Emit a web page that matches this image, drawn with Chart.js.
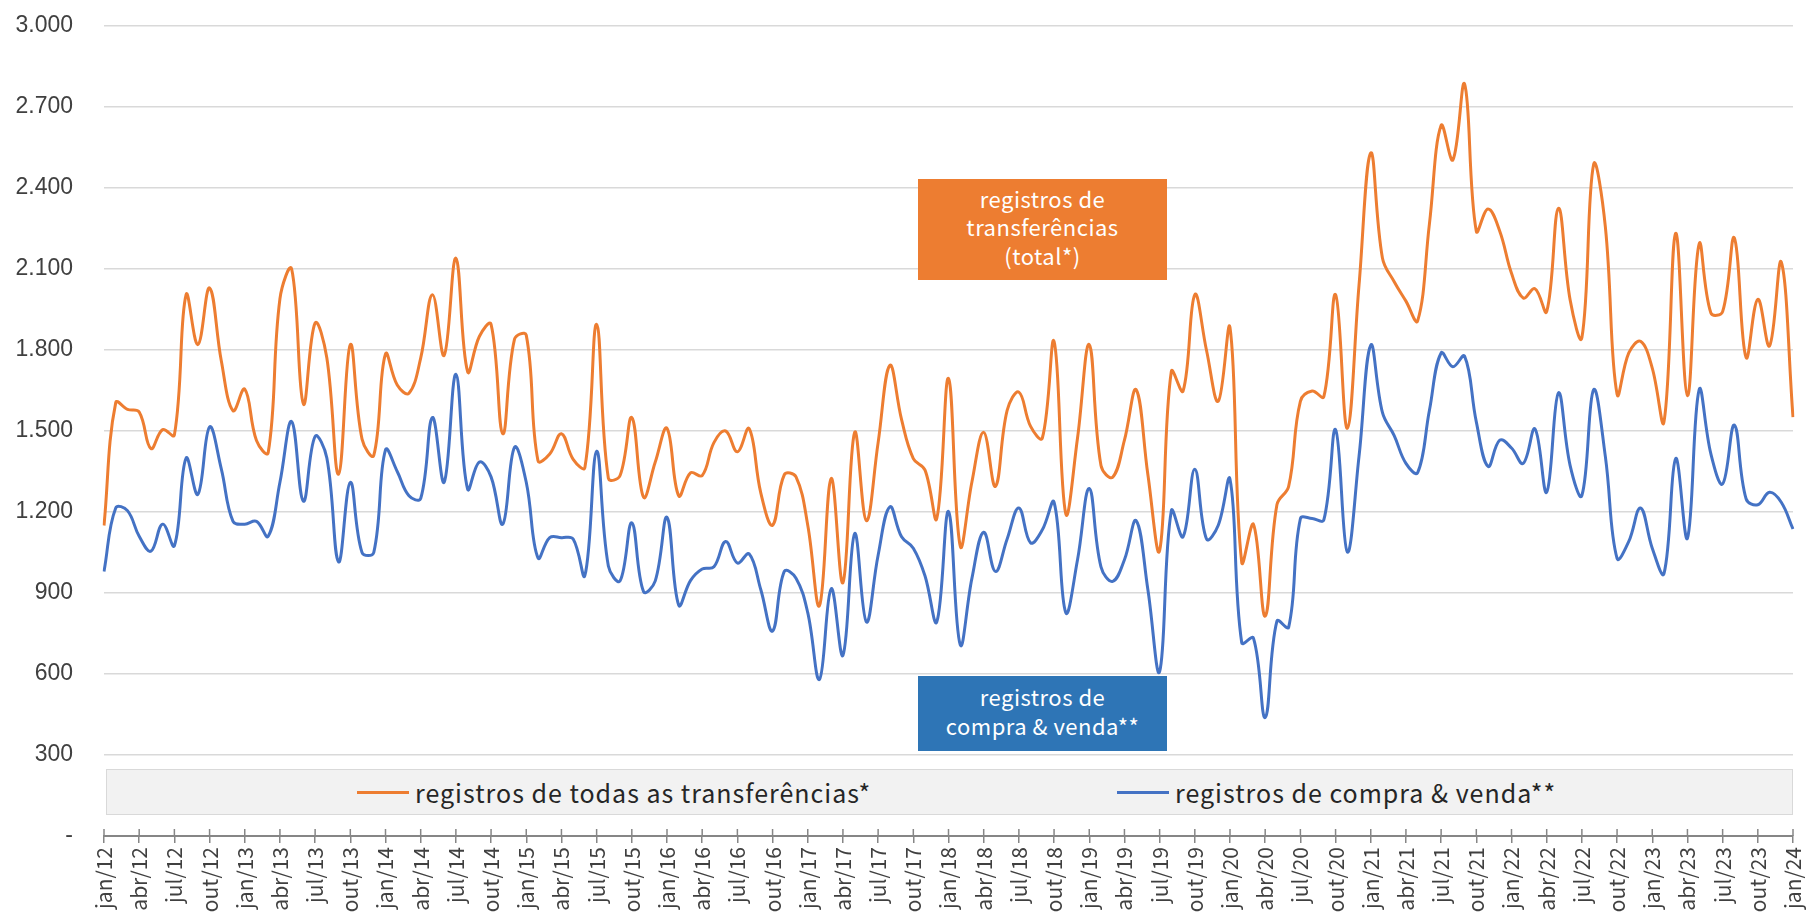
<!DOCTYPE html>
<html lang="pt-BR">
<head>
<meta charset="utf-8">
<title>Registros de transferências e de compra & venda</title>
<script src="https://cdn.jsdelivr.net/npm/chart.js@4.4.1/dist/chart.umd.min.js"></script>
<style>
  html, body { margin: 0; padding: 0; background: #fff; }
  #wrap { position: relative; width: 1806px; height: 915px; overflow: hidden; }
  canvas { display: block; }
  .caixa {
    position: absolute; left: 918px; width: 249px; box-sizing: border-box;
    display: flex; align-items: center; justify-content: center; text-align: center;
    color: #fff; font-family: "Noto Sans CJK JP", "Noto Sans", sans-serif;
    font-size: 22px; line-height: 28.5px; letter-spacing: 0.5px; padding-bottom: 6px;
  }
  #caixa-total { top: 179px; height: 101px; background: #ED7D31; }
  #caixa-cv { top: 676px; height: 75px; background: #2E75B6; }
  #legenda {
    position: absolute; left: 106px; top: 769px; width: 1685px; height: 44px;
    background: #f2f2f2; border: 1px solid #d9d9d9;
    font-family: "Noto Sans CJK JP", "Noto Sans", sans-serif; font-size: 25px;
    letter-spacing: 1px; color: #262626;
  }
  .item { position: absolute; top: 0; height: 44px; display: flex; align-items: center; }
  .item span.amostra { display: inline-block; width: 52px; height: 3px; margin-right: 6px; }
</style>
</head>
<body>
<div id="wrap">
  <canvas id="grafico" width="1806" height="915"></canvas>
  <div class="caixa" id="caixa-total">registros de<br>transferências<br>(total*)</div>
  <div class="caixa" id="caixa-cv">registros de<br>compra &amp; venda**</div>
  <div id="legenda">
    <div class="item" style="left:250px"><span class="amostra" style="background:#ED7D31"></span>registros de todas as transferências*</div>
    <div class="item" style="left:1010px"><span class="amostra" style="background:#4472C4"></span>registros de compra &amp; venda**</div>
  </div>
</div>
<script>
// ==================== DADOS ====================

const MESES = ['jan', 'fev', 'mar', 'abr', 'mai', 'jun', 'jul', 'ago', 'set', 'out', 'nov', 'dez'];
const ANOS = ['12', '13', '14', '15', '16', '17', '18', '19', '20', '21', '22', '23', '24'];

// registros de todas as transferências (total*), jan/12 a jan/24
const transferencias = [
  1150, 1605, 1580, 1570, 1435, 1505, 1485, 2005, 1820, 2030, 1760, 1575, // 2012
  1655, 1465, 1420, 1990, 2100, 1600, 1900, 1770, 1340, 1820, 1470, 1410, // 2013
  1785, 1670, 1640, 1770, 2005, 1780, 2140, 1720, 1850, 1895, 1490, 1840, // 2014
  1855, 1390, 1415, 1490, 1395, 1365, 1895, 1325, 1335, 1550, 1255, 1385, // 2015
  1510, 1260, 1345, 1335, 1457, 1500, 1423, 1509, 1270, 1151, 1338, 1330, // 2016
  1151, 853, 1324, 938, 1495, 1168, 1457, 1743, 1542, 1398, 1355, 1176,   // 2017
  1695, 1074, 1312, 1495, 1295, 1576, 1644, 1517, 1474, 1832, 1193, 1474, // 2018
  1820, 1372, 1329, 1466, 1653, 1338, 1057, 1721, 1648, 2005, 1798, 1610, // 2019
  1883, 1014, 1154, 814, 1227, 1295, 1610, 1648, 1627, 2005, 1510, 2040,  // 2020
  2530, 2140, 2053, 1981, 1908, 2266, 2632, 2504, 2785, 2240, 2322, 2240, // 2021
  2084, 1993, 2027, 1942, 2325, 1985, 1845, 2487, 2257, 1636, 1789, 1832, // 2022
  1733, 1534, 2232, 1631, 2193, 1937, 1942, 2215, 1772, 1988, 1815, 2126, // 2023
  1551                                                                     // 2024
];

// registros de compra & venda**, jan/12 a jan/24
const compraVenda = [
  980, 1215, 1205, 1110, 1055, 1155, 1075, 1400, 1265, 1515, 1360, 1165,  // 2012
  1155, 1165, 1110, 1310, 1535, 1240, 1480, 1400, 1015, 1310, 1050, 1050, // 2013
  1430, 1350, 1260, 1250, 1550, 1310, 1710, 1285, 1385, 1330, 1155, 1440, // 2014
  1310, 1030, 1105, 1105, 1100, 965, 1425, 1000, 945, 1160, 905, 945,     // 2015
  1180, 855, 946, 989, 997, 1091, 1011, 1045, 912, 759, 980, 955,         // 2016
  827, 580, 916, 669, 1120, 793, 1040, 1219, 1108, 1066, 963, 793,        // 2017
  1202, 708, 955, 1125, 980, 1100, 1215, 1086, 1134, 1236, 827, 1023,     // 2018
  1287, 997, 943, 1023, 1168, 912, 609, 1205, 1108, 1358, 1100, 1151,     // 2019
  1321, 716, 733, 439, 796, 773, 1175, 1176, 1171, 1505, 1052, 1406,      // 2020
  1818, 1568, 1483, 1380, 1346, 1576, 1789, 1738, 1777, 1534, 1369, 1466, // 2021
  1437, 1380, 1508, 1273, 1641, 1372, 1261, 1653, 1406, 1028, 1091, 1215, // 2022
  1066, 972, 1398, 1103, 1653, 1415, 1304, 1522, 1249, 1227, 1273, 1236,  // 2023
  1137                                                                     // 2024
];

// categorias mensais: jan/12 ... jan/24
const categorias = [];
ANOS.forEach(ano => {
  MESES.forEach(mes => {
    if (ano === '24' && mes !== 'jan') return;
    categorias.push(mes + '/' + ano);
  });
});

// ==================== FORMATO ====================

function formatarMilhar(valor) {
  if (valor === 0) return '-';
  return String(valor).replace(/\B(?=(\d{3})+(?!\d))/g, '.');
}

// marcas do eixo x cruzando a linha (parte de cima)
const marcasEixo = {
  id: 'marcasEixo',
  afterDraw(chart) {
    const escala = chart.scales.x;
    const c = chart.ctx;
    c.save();
    c.strokeStyle = '#868686';
    c.lineWidth = 1.5;
    escala.ticks.forEach((t, i) => {
      if (t.label === null || t.label === undefined) return;
      const x = escala.getPixelForTick(i);
      c.beginPath();
      c.moveTo(x, escala.top - 7);
      c.lineTo(x, escala.top);
      c.stroke();
    });
    c.restore();
  }
};

// ==================== GRÁFICO ====================

const ctx = document.getElementById('grafico').getContext('2d');

new Chart(ctx, {
  type: 'line',
  data: {
    labels: categorias,
    datasets: [
      {
        label: 'registros de todas as transferências*',
        data: transferencias,
        borderColor: '#ED7D31',
        borderWidth: 3,
        pointRadius: 0,
        tension: 0.4,
        fill: false
      },
      {
        label: 'registros de compra & venda**',
        data: compraVenda,
        borderColor: '#4472C4',
        borderWidth: 3,
        pointRadius: 0,
        tension: 0.4,
        fill: false
      }
    ]
  },
  options: {
    responsive: false,
    animation: false,
    layout: { padding: { top: 26, right: 13, left: 0, bottom: 0 } },
    plugins: {
      legend: { display: false },
      tooltip: { enabled: false }
    },
    scales: {
      x: {
        grid: {
          display: true,
          drawOnChartArea: false,
          drawTicks: true,
          tickLength: 7,
          color: '#868686',
          lineWidth: 1.5
        },
        border: { display: true, color: '#868686', width: 2 },
        ticks: {
          autoSkip: false,
          minRotation: 90,
          maxRotation: 90,
          padding: 4,
          color: '#404040',
          font: { family: '"Noto Sans CJK JP"', size: 21 },
          callback: function(valor, indice) {
            return indice % 3 === 0 ? this.getLabelForValue(valor) : null;
          }
        },
        afterFit: escala => {
          escala.height = 79;
          escala.paddingLeft = 0;
          escala.paddingRight = 0;
        }
      },
      y: {
        min: 0,
        max: 3000,
        border: { display: false },
        grid: {
          color: c => (c.tick && c.tick.value === 0) ? 'rgba(0,0,0,0)' : '#d9d9d9',
          lineWidth: 1.5,
          drawTicks: false
        },
        ticks: {
          stepSize: 300,
          padding: 31,
          color: '#404040',
          font: { family: '"Liberation Sans"', size: 23 },
          callback: valor => formatarMilhar(valor)
        },
        afterFit: escala => {
          escala.width = 104;
          escala.paddingTop = 0;
          escala.paddingBottom = 0;
        }
      }
    }
  },
  plugins: [marcasEixo]
});
</script>
</body>
</html>
